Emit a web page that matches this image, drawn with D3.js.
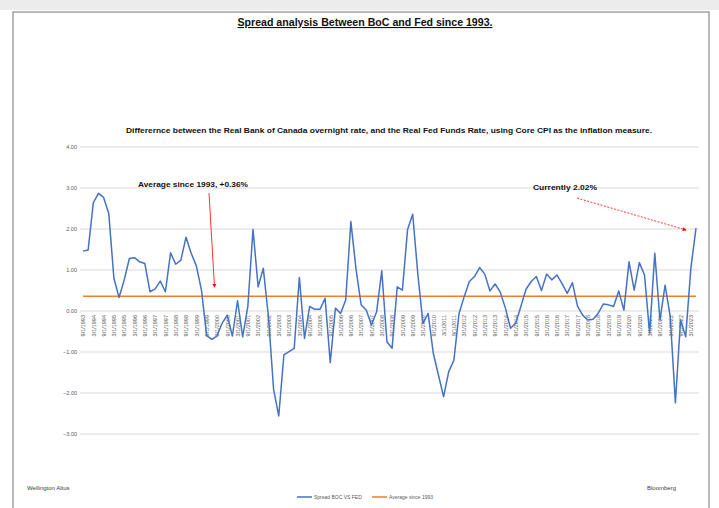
<!DOCTYPE html>
<html>
<head>
<meta charset="utf-8">
<script src="https://cdn.jsdelivr.net/npm/d3@7"></script>
<style>
  html, body { margin: 0; padding: 0; background: #fff; }
  svg { display: block; font-family: "Liberation Sans", Arial, sans-serif; }
</style>
</head>
<body>
<div id="chart"></div>
<script>
// Quarterly categories, 9/1/1993 .. 6/1/2023
const quarterMonths = [9, 12, 3, 6];
const dates = [];
for (let i = 0; i < 120; i++) {
    dates.push(`${quarterMonths[i % 4]}/1/${1993 + Math.floor((i + 2) / 4)}`);
}

// Spread BOC VS FED
const spread = [
    1.46, 1.49, 2.64, 2.87, 2.77, 2.38, 0.80, 0.33, 0.76, 1.28,
    1.30, 1.20, 1.16, 0.47, 0.54, 0.73, 0.47, 1.42, 1.14, 1.24,
    1.80, 1.41, 1.10, 0.51, -0.60, -0.69, -0.61, -0.30, -0.10, -0.61,
    0.25, -0.63, 0.11, 1.99, 0.59, 1.04, -0.14, -1.91, -2.56, -1.07,
    -0.99, -0.91, 0.82, -0.67, 0.11, 0.04, 0.04, 0.31, -1.26, 0.07,
    -0.06, 0.27, 2.18, 1.02, 0.15, 0.02, -0.34, -0.02, 0.98, -0.75,
    -0.91, 0.59, 0.51, 1.98, 2.36, 0.90, -0.30, -0.06, -1.03, -1.56,
    -2.09, -1.48, -1.20, -0.06, 0.35, 0.72, 0.84, 1.06, 0.90, 0.49,
    0.66, 0.46, 0.07, -0.42, -0.30, 0.11, 0.53, 0.72, 0.84, 0.50,
    0.90, 0.76, 0.88, 0.67, 0.43, 0.69, 0.12, -0.10, -0.22, -0.20,
    -0.06, 0.17, 0.15, 0.11, 0.49, 0.02, 1.20, 0.51, 1.18, 0.88,
    -0.54, 1.41, -0.22, 0.63, -0.14, -2.24, -0.22, -0.63, 1.04, 2.02
];
const average = 0.36;
const yTickValues = [-3, -2, -1, 0, 1, 2, 3, 4];

const width = 719, height = 508;
const svg = d3.select('#chart').append('svg')
    .attr('width', width)
    .attr('height', height);

// Frame
svg.append('rect').attr('x', 0).attr('y', 0).attr('width', width).attr('height', 10).attr('fill', '#ececec');
svg.append('rect')
    .attr('x', 13).attr('y', 12)
    .attr('width', 696).attr('height', 520)
    .attr('fill', '#fff')
    .attr('stroke', '#8c8c8c')
    .attr('stroke-width', 1.2);

// Scales
const x = d3.scalePoint().domain(dates).range([83, 696]);
const y = d3.scaleLinear().domain([-3, 4]).range([434, 147]);

// Grid lines
svg.append('g')
    .selectAll('line')
    .data(yTickValues)
    .enter().append('line')
    .attr('x1', 80).attr('x2', 699)
    .attr('y1', d => y(d)).attr('y2', d => y(d))
    .attr('stroke', '#d9d9d9')
    .attr('stroke-width', 1);

// Y axis labels
const yAxis = svg.append('g')
    .attr('transform', 'translate(77,0)')
    .call(d3.axisLeft(y).tickValues(yTickValues).tickSize(0).tickPadding(0).tickFormat(d3.format('.2f')));
yAxis.select('.domain').remove();
yAxis.selectAll('text').attr('fill', '#595959').attr('font-size', '5.5px');

// X axis labels at zero, every second quarter
const xAxis = svg.append('g')
    .attr('transform', `translate(0,${y(0)})`)
    .call(d3.axisBottom(x).tickValues(dates.filter((d, i) => i % 2 === 0)).tickSize(0));
xAxis.select('.domain').remove();
xAxis.selectAll('text')
    .attr('fill', '#595959')
    .attr('font-size', '5.5px')
    .attr('transform', 'rotate(-90)')
    .attr('text-anchor', 'end')
    .attr('x', -4)
    .attr('y', 0)
    .attr('dy', '0.32em');

// Average line
svg.append('line')
    .attr('x1', x(dates[0])).attr('x2', x(dates[dates.length - 1]))
    .attr('y1', y(average)).attr('y2', y(average))
    .attr('stroke', '#ED7D31')
    .attr('stroke-width', 1.6);

// Spread line
const line = d3.line()
    .x((d, i) => x(dates[i]))
    .y(d => y(d));
svg.append('path')
    .datum(spread)
    .attr('fill', 'none')
    .attr('stroke', '#4472C4')
    .attr('stroke-width', 1.5)
    .attr('stroke-linejoin', 'round')
    .attr('d', line);

// Titles
svg.append('text')
    .attr('x', 365).attr('y', 26)
    .attr('text-anchor', 'middle')
    .attr('font-size', '11px')
    .attr('font-weight', 'bold')
    .attr('text-decoration', 'underline')
    .attr('textLength', 255)
    .attr('lengthAdjust', 'spacingAndGlyphs')
    .attr('fill', '#111')
    .text('Spread analysis Between BoC and Fed since 1993.');

svg.append('text')
    .attr('x', 389).attr('y', 133)
    .attr('text-anchor', 'middle')
    .attr('font-size', '8px')
    .attr('font-weight', 'bold')
    .attr('textLength', 526)
    .attr('lengthAdjust', 'spacingAndGlyphs')
    .attr('fill', '#111')
    .text('Differernce between the Real Bank of Canada overnight  rate, and the Real Fed Funds Rate,  using Core CPI as the inflation measure.');

// Annotations
const defs = svg.append('defs');
defs.append('marker')
    .attr('id', 'arrow')
    .attr('viewBox', '0 0 10 10')
    .attr('refX', 8).attr('refY', 5)
    .attr('markerWidth', 5).attr('markerHeight', 5)
    .attr('orient', 'auto')
    .append('path')
    .attr('d', 'M0,0 L10,5 L0,10 z')
    .attr('fill', '#ff0000');

svg.append('text')
    .attr('x', 138).attr('y', 187)
    .attr('font-size', '8px')
    .attr('font-weight', 'bold')
    .attr('textLength', 110)
    .attr('lengthAdjust', 'spacingAndGlyphs')
    .attr('fill', '#111')
    .text('Average since 1993, +0.36%');

svg.append('line')
    .attr('x1', 209).attr('y1', 193)
    .attr('x2', 214.5).attr('y2', 287)
    .attr('stroke', '#ff0000')
    .attr('stroke-width', 0.8)
    .attr('marker-end', 'url(#arrow)');

svg.append('text')
    .attr('x', 533).attr('y', 190)
    .attr('font-size', '8px')
    .attr('font-weight', 'bold')
    .attr('textLength', 64)
    .attr('lengthAdjust', 'spacingAndGlyphs')
    .attr('fill', '#111')
    .text('Currently 2.02%');

svg.append('line')
    .attr('x1', 577).attr('y1', 198)
    .attr('x2', 686).attr('y2', 230)
    .attr('stroke', '#ff0000')
    .attr('stroke-width', 0.8)
    .attr('stroke-dasharray', '2,1.5')
    .attr('marker-end', 'url(#arrow)');

// Footer
svg.append('text')
    .attr('x', 27).attr('y', 490)
    .attr('font-size', '6px')
    .attr('fill', '#404040')
    .text('Wellington Altus');
svg.append('text')
    .attr('x', 676).attr('y', 490)
    .attr('text-anchor', 'end')
    .attr('font-size', '6px')
    .attr('fill', '#404040')
    .text('Bloomberg');

// Legend
const legendItems = [
    { label: 'Spread BOC VS FED', color: '#4472C4', x: 297 },
    { label: 'Average since 1993', color: '#ED7D31', x: 372 }
];
const legend = svg.append('g');
legendItems.forEach(item => {
    legend.append('line')
        .attr('x1', item.x).attr('x2', item.x + 15)
        .attr('y1', 497).attr('y2', 497)
        .attr('stroke', item.color)
        .attr('stroke-width', 1.5);
    legend.append('text')
        .attr('x', item.x + 17).attr('y', 499)
        .attr('font-size', '5px')
        .attr('fill', '#595959')
        .text(item.label);
});
</script>
</body>
</html>
